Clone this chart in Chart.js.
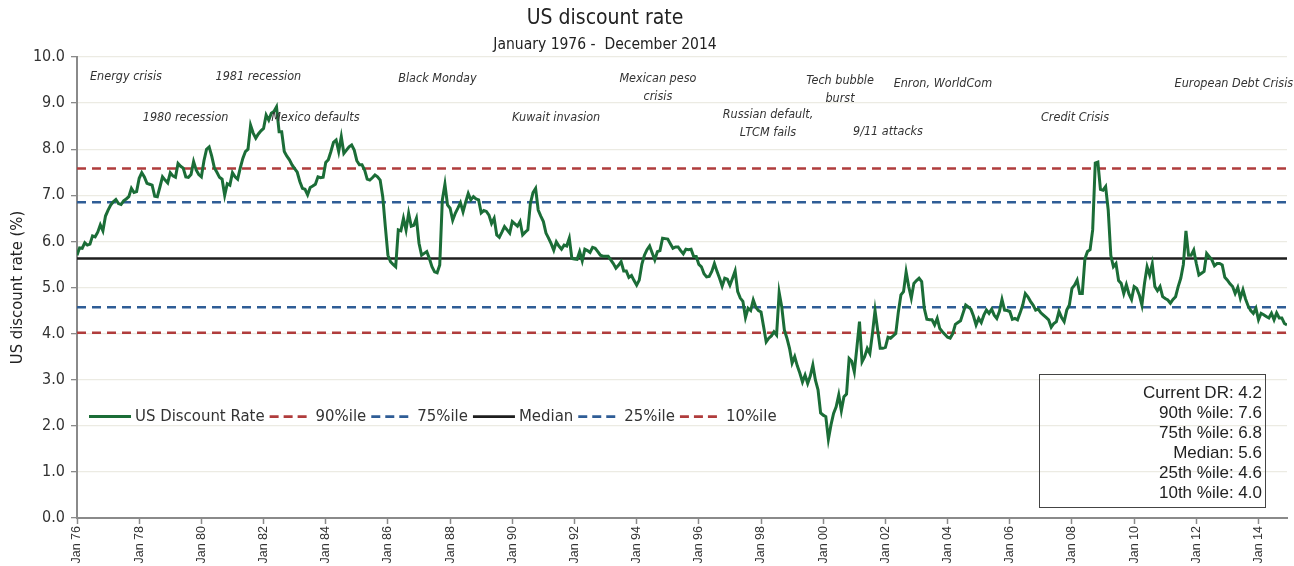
<!DOCTYPE html>
<html>
<head>
<meta charset="utf-8">
<script src="https://cdn.jsdelivr.net/npm/chart.js@4.4.1/dist/chart.umd.min.js"></script>
<style>
html, body { margin: 0; padding: 0; background: #fff; }
#wrap { width: 1294px; height: 566px; }
</style>
</head>
<body>
<div id="wrap"><canvas id="chart" width="1294" height="566"></canvas></div>
<script>
const chartTitle = 'US discount rate';
const chartSubtitle = 'January 1976 -  December 2014';

// one label every two years (every 24 months from Jan 1976)
const tickLabels = ['Jan 76', 'Jan 78', 'Jan 80', 'Jan 82', 'Jan 84', 'Jan 86', 'Jan 88', 'Jan 90', 'Jan 92', 'Jan 94',
    'Jan 96', 'Jan 98', 'Jan 00', 'Jan 02', 'Jan 04', 'Jan 06', 'Jan 08', 'Jan 10', 'Jan 12', 'Jan 14'];

// monthly values, one row per year 1976..2014
const discountRate = [
    5.70, 5.86, 5.85, 5.97, 5.92, 5.94, 6.12, 6.10, 6.20, 6.36, 6.23, 6.55,
    6.68, 6.79, 6.86, 6.91, 6.82, 6.80, 6.88, 6.92, 6.97, 7.15, 7.06, 7.08,
    7.37, 7.49, 7.40, 7.26, 7.24, 7.22, 6.98, 6.97, 7.18, 7.40, 7.33, 7.27,
    7.49, 7.42, 7.39, 7.69, 7.63, 7.59, 7.40, 7.39, 7.45, 7.73, 7.55, 7.45,
    7.40, 7.75, 8.00, 8.05, 7.85, 7.60, 7.50, 7.39, 7.35, 7.00, 7.25, 7.22,
    7.49, 7.40, 7.35, 7.59, 7.80, 7.95, 8.00, 8.52, 8.35, 8.24, 8.33, 8.40,
    8.45, 8.74, 8.63, 8.78, 8.82, 8.92, 8.38, 8.38, 7.95, 7.85, 7.77, 7.66,
    7.58, 7.50, 7.30, 7.15, 7.13, 7.01, 7.17, 7.20, 7.24, 7.40, 7.38, 7.39,
    7.71, 7.77, 7.95, 8.15, 8.20, 7.95, 8.27, 7.91, 7.98, 8.05, 8.09, 7.98,
    7.75, 7.66, 7.66, 7.55, 7.35, 7.33, 7.38, 7.44, 7.40, 7.33, 6.97, 6.32,
    5.70, 5.56, 5.50, 5.45, 6.25, 6.23, 6.50, 6.25, 6.61, 6.33, 6.35, 6.50,
    5.96, 5.70, 5.74, 5.78, 5.63, 5.45, 5.34, 5.32, 5.49, 6.90, 7.24, 6.79,
    6.72, 6.46, 6.61, 6.72, 6.84, 6.64, 6.85, 7.04, 6.90, 6.97, 6.92, 6.90,
    6.62, 6.67, 6.65, 6.57, 6.39, 6.50, 6.14, 6.09, 6.20, 6.32, 6.25, 6.18,
    6.43, 6.38, 6.33, 6.43, 6.14, 6.20, 6.25, 6.83, 7.06, 7.15, 6.68, 6.55,
    6.43, 6.18, 6.07, 5.95, 5.81, 5.99, 5.90, 5.83, 5.92, 5.90, 6.07, 5.63,
    5.62, 5.61, 5.78, 5.58, 5.83, 5.80, 5.76, 5.87, 5.85, 5.78, 5.70, 5.68,
    5.68, 5.68, 5.60, 5.52, 5.42, 5.48, 5.56, 5.36, 5.36, 5.22, 5.26, 5.15,
    5.05, 5.16, 5.50, 5.70, 5.82, 5.90, 5.75, 5.60, 5.78, 5.80, 6.07, 6.06,
    6.05, 5.95, 5.85, 5.88, 5.88, 5.80, 5.73, 5.83, 5.82, 5.83, 5.67, 5.67,
    5.50, 5.45, 5.30, 5.23, 5.24, 5.35, 5.52, 5.35, 5.20, 5.03, 5.20, 5.18,
    5.05, 5.20, 5.36, 4.91, 4.77, 4.70, 4.35, 4.55, 4.50, 4.73, 4.57, 4.50,
    4.47, 4.15, 3.82, 3.90, 3.95, 4.04, 3.97, 4.89, 4.58, 4.08, 3.90, 3.68,
    3.36, 3.50, 3.30, 3.14, 2.95, 3.10, 2.92, 3.08, 3.32, 2.99, 2.78, 2.28,
    2.23, 2.20, 1.71, 2.02, 2.27, 2.41, 2.67, 2.33, 2.63, 2.69, 3.46, 3.40,
    3.17, 3.70, 4.26, 3.39, 3.50, 3.68, 3.57, 4.00, 4.50, 4.08, 3.68, 3.68,
    3.70, 3.92, 3.90, 3.95, 4.00, 4.47, 4.84, 4.91, 5.34, 5.02, 4.77, 5.09,
    5.15, 5.20, 5.13, 4.55, 4.31, 4.30, 4.30, 4.19, 4.33, 4.11, 4.04, 3.98,
    3.92, 3.90, 4.00, 4.20, 4.24, 4.28, 4.45, 4.62, 4.58, 4.53, 4.38, 4.19,
    4.33, 4.24, 4.40, 4.51, 4.44, 4.53, 4.40, 4.33, 4.48, 4.74, 4.51, 4.50,
    4.48, 4.31, 4.33, 4.30, 4.45, 4.62, 4.87, 4.80, 4.70, 4.62, 4.51, 4.53,
    4.45, 4.40, 4.35, 4.30, 4.14, 4.22, 4.26, 4.48, 4.35, 4.26, 4.51, 4.62,
    4.98, 5.05, 5.16, 4.87, 4.87, 5.62, 5.78, 5.82, 6.25, 7.70, 7.72, 7.13,
    7.11, 7.19, 6.68, 5.70, 5.45, 5.52, 5.15, 5.09, 4.87, 5.06, 4.86, 4.74,
    5.02, 4.98, 4.84, 4.62, 5.09, 5.45, 5.27, 5.51, 5.02, 4.93, 5.02, 4.80,
    4.76, 4.73, 4.66, 4.74, 4.80, 5.02, 5.20, 5.50, 6.23, 5.70, 5.70, 5.81,
    5.52, 5.27, 5.31, 5.35, 5.74, 5.67, 5.60, 5.47, 5.52, 5.52, 5.49, 5.22,
    5.16, 5.08, 5.02, 4.87, 5.00, 4.77, 4.95, 4.75, 4.60, 4.50, 4.44, 4.55,
    4.30, 4.44, 4.41, 4.37, 4.34, 4.44, 4.30, 4.45, 4.34, 4.34, 4.22, 4.19
];

const seriesName = 'US Discount Rate';
const percentileNames = ['90%ile', '75%ile', 'Median', '25%ile', '10%ile'];
const percentileValues = [7.58, 6.85, 5.63, 4.57, 4.02];

const statNames = ['Current DR', '90th %ile', '75th %ile', 'Median', '25th %ile', '10th %ile'];
const statValues = [4.2, 7.6, 6.8, 5.6, 4.6, 4.0];

const eventLabels = [
    ['Energy crisis'], ['1981 recession'], ['1980 recession'], ['Mexico defaults'], ['Black Monday'],
    ['Kuwait invasion'], ['Mexican peso', 'crisis'], ['Russian default,', 'LTCM fails'], ['Tech bubble', 'burst'],
    ['9/11 attacks'], ['Enron, WorldCom'], ['Credit Crisis'], ['European Debt Crisis']
];

// styling
const NARROW = '"Liberation Sans Narrow", "DejaVu Sans Condensed", sans-serif';
const ARIAL = '"Liberation Sans", Arial, sans-serif';
const GREEN = '#1b6d37';
const RED = '#b03c3c';
const BLUE = '#2f5d96';
const BLACK = '#1e1e1e';
const percentileColors = [RED, BLUE, BLACK, BLUE, RED];
const percentileDashes = [[9, 6], [9, 6], [], [9, 6], [9, 6]];

// where each event label sits: [month index, value] of its first line centre
const eventAnchors = [
    [18.9, 9.58], [70, 9.58], [41.9, 8.68], [92, 8.68], [139.1, 9.53],
    [184.9, 8.68], [224.2, 9.53], [266.7, 8.74], [294.5, 9.49],
    [313, 8.37], [334.2, 9.43], [385.2, 8.68], [446.5, 9.43]
];

const lastMonth = discountRate.length - 1;

const datasets = [{
    label: seriesName,
    data: discountRate.map((v, i) => ({ x: i, y: v })),
    borderColor: GREEN,
    borderWidth: 3,
    pointRadius: 0,
    tension: 0,
    order: 0
}];
percentileNames.forEach((name, k) => {
    datasets.push({
        label: name,
        data: [{ x: 0, y: percentileValues[k] }, { x: lastMonth, y: percentileValues[k] }],
        borderColor: percentileColors[k],
        borderDash: percentileDashes[k],
        borderWidth: 2.6,
        pointRadius: 0,
        order: 1
    });
});

const overlay = {
    id: 'overlay',
    afterDraw(chart) {
        const { ctx, scales: { x, y } } = chart;
        ctx.save();

        // title + subtitle
        ctx.fillStyle = '#222';
        ctx.textAlign = 'center';
        ctx.textBaseline = 'middle';
        ctx.font = '21px ' + NARROW;
        ctx.fillText(chartTitle, 605, 19);
        ctx.font = '15.5px ' + NARROW;
        ctx.fillText(chartSubtitle, 605, 45);

        // event annotations
        ctx.font = 'italic 12.5px ' + NARROW;
        ctx.fillStyle = '#333';
        eventLabels.forEach((lines, k) => {
            const px = x.getPixelForValue(eventAnchors[k][0]);
            const py = y.getPixelForValue(eventAnchors[k][1]);
            lines.forEach((t, j) => ctx.fillText(t, px, py + j * 18));
        });

        // legend inside the plot
        const items = [{ name: seriesName, color: GREEN, dash: [], w: 3 }];
        percentileNames.forEach((n, k) => items.push({ name: n, color: percentileColors[k], dash: percentileDashes[k].length ? [9, 5] : [], w: 2.6 }));
        ctx.font = '16.6px ' + NARROW;
        ctx.textAlign = 'left';
        ctx.fillStyle = '#333';
        let lx = 89;
        const ly = y.getPixelForValue(2.2);
        items.forEach(it => {
            ctx.beginPath();
            ctx.setLineDash(it.dash);
            ctx.strokeStyle = it.color;
            ctx.lineWidth = it.w;
            ctx.moveTo(lx, ly);
            ctx.lineTo(lx + 42, ly);
            ctx.stroke();
            ctx.setLineDash([]);
            lx += 46;
            ctx.fillText(it.name, lx, ly);
            lx += ctx.measureText(it.name).width + 5;
        });

        // stats box
        ctx.strokeStyle = '#444';
        ctx.lineWidth = 1;
        ctx.strokeRect(1039.5, 374.5, 226, 133);
        ctx.fillStyle = '#222';
        ctx.font = '17px ' + ARIAL;
        ctx.textAlign = 'right';
        statNames.forEach((n, k) => {
            ctx.fillText(n + ': ' + statValues[k].toFixed(1), 1262, 393 + k * 20);
        });
        ctx.restore();
    }
};

new Chart(document.getElementById('chart'), {
    type: 'line',
    data: { datasets },
    options: {
        responsive: false,
        animation: false,
        layout: { padding: { top: 57, right: 7, left: 0, bottom: 0 } },
        plugins: { legend: { display: false }, tooltip: { enabled: false } },
        scales: {
            x: {
                type: 'linear',
                min: 0,
                max: lastMonth,
                afterFit: s => { s.height = 48; },
                grid: { drawOnChartArea: false, tickLength: 6, tickColor: '#8a8a8a', tickWidth: 1.5 },
                border: { color: '#8a8a8a', width: 2 },
                ticks: {
                    stepSize: 24,
                    includeBounds: false,
                    autoSkip: false,
                    minRotation: 90,
                    maxRotation: 90,
                    padding: 2,
                    color: '#333',
                    font: { family: ARIAL, size: 12.5 },
                    callback: v => tickLabels[v / 24]
                }
            },
            y: {
                min: 0,
                max: 10,
                afterFit: s => { s.width = 77; },
                grid: { color: '#ecebe3', lineWidth: 1.3, tickLength: 6, tickColor: '#8a8a8a' },
                border: { color: '#8a8a8a', width: 2 },
                title: { display: true, text: 'US discount rate (%)', color: '#222', font: { family: NARROW, size: 16.5 }, padding: { top: 8, bottom: 0 } },
                ticks: {
                    stepSize: 1,
                    padding: 6,
                    color: '#333',
                    font: { family: NARROW, size: 16 },
                    callback: v => v.toFixed(1)
                }
            }
        }
    },
    plugins: [overlay]
});
</script>
</body>
</html>
